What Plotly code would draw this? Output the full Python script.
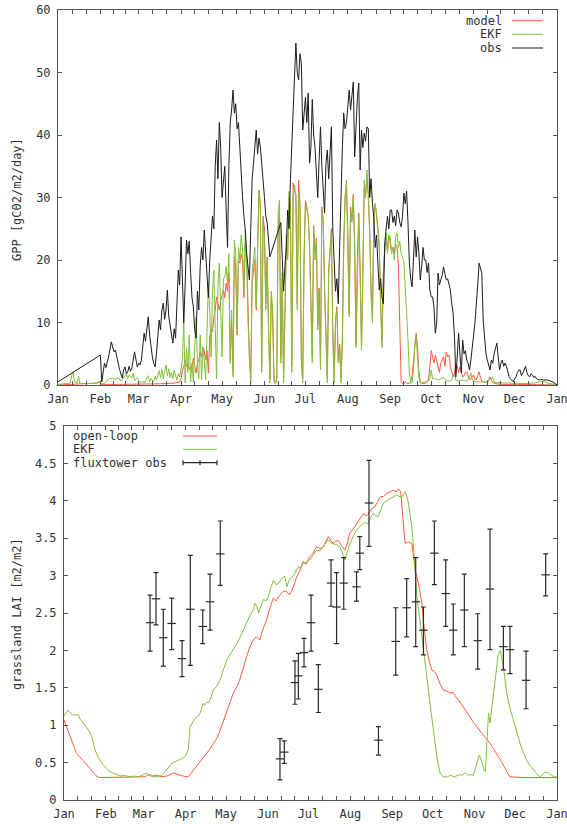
import plotly.graph_objects as go

W, H = 567, 824

# ---------------- data ----------------
month_start = [0, 31, 59, 90, 120, 151, 181, 212, 243, 273, 304, 334, 365]
month_label = ["Jan", "Feb", "Mar", "Apr", "May", "Jun", "Jul", "Aug", "Sep",
               "Oct", "Nov", "Dec", "Jan"]

# GPP observed at the flux tower, (day of year, gC02/m2/day)
obs_gpp = [(0, 0.5), (31, 4.8), (32, 0.5), (33, 2.0), (34, 3.5), (35, 2.8), (37, 4.5), (39, 6.9),
           (40, 6.0), (41, 5.3), (42, 5.6), (43, 4.2), (44, 3.5), (45, 2.5), (46, 1.9), (47, 1.1),
           (48, 2.4), (49, 2.9), (50, 1.8), (51, 2.1), (52, 3.0), (53, 2.2), (54, 2.7), (55, 4.0),
           (56, 5.3), (57, 4.1), (58, 2.9), (59, 3.5), (60, 3.2), (61, 4.0), (62, 5.8), (63, 8.3),
           (64, 7.0), (65, 9.5), (66, 10.9), (67, 8.0), (68, 5.6), (69, 4.5), (70, 3.5), (71, 2.9),
           (72, 5.0), (73, 7.5), (74, 10.4), (75, 8.8), (76, 12.0), (77, 13.1), (78, 10.5), (79, 12.0),
           (80, 15.2), (81, 11.0), (82, 9.3), (83, 8.0), (84, 6.7), (85, 9.0), (86, 7.5), (87, 13.0),
           (88, 18.4), (89, 16.0), (90, 23.7), (91, 17.0), (92, 9.9), (93, 16.0), (94, 23.2), (95, 21.0),
           (96, 23.0), (97, 18.0), (98, 14.0), (99, 12.5), (100, 8.8), (101, 7.5), (102, 15.0), (103, 12.0),
           (104, 19.0), (105, 22.0), (106, 20.0), (107, 24.8), (108, 21.0), (109, 18.4), (110, 14.0),
           (111, 20.0), (112, 23.0), (113, 27.0), (114, 25.0), (115, 35.0), (116, 39.2), (117, 33.0),
           (118, 42.0), (119, 38.0), (120, 30.0), (121, 33.0), (122, 35.0), (123, 28.0), (124, 22.0),
           (125, 35.0), (126, 42.0), (127, 44.0), (128, 47.2), (129, 43.5), (130, 45.0), (131, 41.0),
           (132, 42.0), (133, 38.0), (134, 32.8), (135, 30.0), (136, 27.0), (137, 24.8), (138, 21.0),
           (139, 18.4), (140, 16.8), (141, 25.0), (142, 33.0), (143, 35.5), (144, 38.0), (145, 40.8),
           (146, 37.0), (147, 39.5), (148, 38.1), (149, 36.0), (150, 32.8), (151, 30.0), (152, 27.0),
           (153, 25.9), (154, 23.0), (155, 20.5), (163, 26.0), (164, 20.0), (165, 15.0), (166, 19.0),
           (167, 22.0), (168, 28.0), (169, 25.0), (170, 32.8), (171, 38.0), (172, 43.5), (173, 48.0),
           (174, 54.7), (175, 50.0), (176, 48.8), (177, 53.0), (178, 51.5), (179, 40.8), (180, 43.0),
           (181, 46.0), (182, 42.0), (183, 46.7), (184, 35.5), (185, 38.0), (186, 45.7), (187, 40.0),
           (188, 38.0), (189, 33.0), (190, 30.0), (191, 36.0), (192, 41.3), (193, 35.0), (194, 32.0),
           (195, 27.5), (196, 35.5), (197, 37.6), (198, 33.0), (199, 38.0), (200, 41.3), (201, 24.8),
           (202, 20.0), (203, 15.0), (204, 17.0), (205, 13.0), (206, 22.0), (207, 32.8), (208, 38.0),
           (209, 43.5), (210, 41.0), (211, 42.0), (212, 45.0), (213, 47.2), (214, 44.0), (215, 46.0),
           (216, 48.5), (217, 36.5), (218, 42.0), (219, 46.0), (220, 48.3), (221, 34.4), (222, 40.8),
           (223, 38.0), (224, 40.3), (225, 39.0), (226, 41.3), (227, 41.0), (228, 30.0), (229, 33.0),
           (230, 29.0), (231, 26.9), (232, 22.0), (233, 24.0), (234, 19.5), (235, 15.2), (236, 17.0),
           (237, 14.0), (238, 13.0), (239, 22.7), (240, 25.0), (241, 27.0), (242, 25.0), (243, 28.0),
           (244, 28.0), (245, 26.0), (246, 27.0), (247, 25.5), (248, 28.0), (249, 27.5), (250, 26.0),
           (251, 25.3), (252, 27.0), (253, 30.7), (254, 29.0), (255, 31.0), (256, 26.0), (257, 19.5),
           (258, 17.0), (259, 15.7), (260, 20.0), (261, 24.8), (262, 20.5), (263, 23.7), (264, 21.0),
           (265, 16.8), (266, 19.0), (267, 22.0), (268, 20.0), (269, 20.0), (270, 18.0), (271, 19.5),
           (272, 15.2), (273, 14.1), (274, 14.1), (275, 12.5), (276, 8.3), (277, 9.9), (278, 17.9),
           (279, 16.0), (280, 16.8), (281, 17.5), (282, 18.9), (283, 17.5), (284, 16.8), (285, 17.0),
           (286, 16.0), (287, 15.2), (288, 13.0), (289, 11.5), (290, 7.7), (291, 1.3), (292, 4.5),
           (293, 8.3), (294, 5.0), (295, 1.9), (296, 7.2), (297, 5.0), (298, 5.5), (299, 4.0), (300, 3.5),
           (301, 2.4), (302, 4.0), (303, 5.6), (304, 8.0), (305, 10.0), (306, 12.5), (307, 16.0),
           (308, 19.5), (309, 18.5), (310, 17.9), (311, 10.4), (312, 7.0), (313, 5.1), (314, 4.0),
           (315, 2.9), (316, 2.4), (317, 4.0), (318, 3.5), (319, 5.0), (320, 6.0), (321, 6.7), (322, 4.5),
           (323, 2.4), (324, 3.5), (325, 4.0), (326, 3.0), (327, 3.5), (328, 3.0), (329, 2.0), (330, 1.3),
           (331, 1.0), (332, 0.8), (333, 0.5), (334, 1.0), (335, 1.3), (336, 2.0), (337, 2.4), (338, 2.4),
           (339, 1.5), (340, 1.9), (341, 2.5), (342, 3.0), (343, 2.0), (344, 1.5), (345, 1.3), (346, 1.8),
           (347, 1.6), (348, 1.2), (349, 1.4), (350, 1.0), (351, 0.9), (352, 0.8), (353, 0.9), (355, 0.8),
           (358, 0.8), (362, 0.5), (365, 0.0)]

# GPP from the EKF run
ekf_gpp = [(0, 0.1), (5, 0.2), (9, 0.3), (10, 1.5), (11, 2.1), (12, 0.5), (14, 0.3), (15, 1.4), (16, 0.3),
           (20, 0.2), (25, 0.2), (29, 0.3), (30, 0.6), (31, 0.2), (34, 0.2), (36, 0.8), (38, 1.0),
           (40, 1.1), (42, 0.9), (44, 1.2), (46, 0.6), (48, 1.3), (50, 1.8), (51, 1.0), (52, 1.6),
           (54, 1.1), (55, 1.9), (56, 0.7), (58, 1.2), (60, 0.4), (62, 0.6), (63, 0.3), (64, 0.7),
           (66, 1.5), (67, 0.5), (68, 1.0), (70, 0.5), (71, 1.4), (72, 0.8), (73, 1.6), (74, 2.3),
           (75, 1.2), (76, 2.5), (77, 1.0), (78, 2.2), (79, 3.2), (80, 1.5), (81, 2.6), (82, 1.2),
           (83, 2.0), (84, 1.0), (85, 2.4), (86, 1.5), (87, 0.8), (88, 1.8), (89, 1.3), (90, 2.5),
           (91, 4.3), (92, 9.9), (93, 0.3), (94, 6.0), (95, 2.0), (96, 8.0), (97, 0.5), (98, 3.5),
           (99, 0.4), (100, 5.9), (101, 10.9), (102, 3.3), (103, 1.0), (104, 8.0), (105, 0.9), (106, 6.0),
           (107, 4.0), (108, 0.8), (109, 11.0), (110, 16.3), (111, 12.0), (112, 4.5), (113, 15.0),
           (114, 18.4), (115, 9.0), (116, 1.0), (117, 16.0), (118, 19.5), (119, 12.0), (120, 4.5),
           (121, 17.0), (122, 17.3), (123, 19.0), (124, 16.3), (125, 21.0), (126, 3.5), (127, 12.0),
           (128, 1.3), (129, 23.2), (130, 21.0), (131, 9.0), (132, 22.0), (133, 20.0), (134, 24.0),
           (135, 22.0), (136, 15.0), (137, 24.8), (138, 20.0), (139, 10.0), (140, 3.5), (141, 0.3),
           (142, 18.0), (143, 20.5), (144, 22.0), (145, 12.5), (146, 25.0), (147, 31.0), (148, 28.0),
           (149, 2.0), (150, 26.0), (151, 24.0), (152, 12.0), (153, 20.0), (154, 8.8), (155, 0.3),
           (156, 15.0), (157, 12.0), (158, 0.3), (159, 0.3), (160, 0.3), (161, 27.5), (162, 29.6),
           (163, 3.5), (164, 18.0), (165, 0.3), (166, 12.0), (167, 24.0), (168, 20.0), (169, 31.0),
           (170, 28.0), (171, 2.0), (172, 30.0), (173, 32.0), (174, 30.0), (175, 12.0), (176, 31.0),
           (177, 28.0), (178, 3.5), (179, 0.3), (180, 20.0), (181, 29.0), (182, 28.0), (183, 27.0),
           (184, 22.0), (185, 12.0), (186, 3.5), (187, 25.0), (188, 20.0), (189, 23.0), (190, 8.8),
           (191, 15.0), (192, 2.4), (193, 28.0), (194, 26.0), (195, 15.0), (196, 5.6), (197, 0.3),
           (198, 18.0), (199, 22.0), (200, 24.3), (201, 8.0), (202, 0.3), (203, 9.9), (204, 12.0),
           (205, 3.5), (206, 6.0), (207, 0.3), (208, 6.7), (209, 22.0), (210, 30.1), (211, 32.8),
           (212, 24.0), (213, 10.9), (214, 28.0), (215, 26.0), (216, 30.0), (217, 22.0), (218, 6.0),
           (219, 20.0), (220, 27.0), (221, 18.0), (222, 5.6), (223, 18.0), (224, 32.8), (225, 30.0),
           (226, 34.4), (227, 30.0), (228, 24.0), (229, 14.1), (230, 10.0), (231, 26.0), (232, 29.0),
           (233, 27.0), (234, 25.0), (235, 22.0), (236, 12.5), (237, 6.0), (238, 18.0), (239, 22.0),
           (240, 24.3), (241, 21.0), (242, 24.0), (243, 23.7), (244, 21.0), (245, 22.0), (246, 20.0),
           (247, 23.7), (248, 24.3), (249, 22.0), (250, 23.0), (251, 21.0), (252, 20.5), (253, 19.5),
           (254, 16.3), (255, 11.5), (256, 7.2), (257, 2.0), (258, 0.3), (259, 0.3), (260, 2.5),
           (261, 6.7), (262, 7.7), (263, 4.0), (264, 1.0), (265, 0.3), (268, 0.5), (270, 0.5), (272, 1.0),
           (273, 2.4), (274, 1.0), (276, 1.0), (278, 0.8), (280, 1.0), (282, 1.2), (284, 0.7), (286, 0.6),
           (288, 0.8), (290, 1.9), (291, 0.8), (293, 0.6), (296, 0.8), (299, 0.6), (301, 1.2), (302, 1.9),
           (303, 0.8), (306, 0.5), (310, 0.5), (314, 0.4), (316, 0.8), (318, 1.3), (319, 0.4), (324, 0.3),
           (330, 0.3), (336, 0.2), (342, 0.3), (348, 0.3), (352, 0.5), (355, 0.6), (357, 0.4), (360, 0.2),
           (365, 0.1)]

# GPP from the free-running model
model_gpp = [(0, 0.0), (10, 0.1), (20, 0.1), (28, 0.3), (30, 0.5), (32, 0.1), (45, 0.1), (60, 0.1),
             (75, 0.2), (85, 0.3), (89, 0.5), (90, 1.0), (91, 2.4), (92, 3.0), (93, 4.0), (94, 3.0),
             (95, 3.5), (96, 2.5), (97, 3.0), (98, 2.8), (99, 4.3), (100, 3.0), (101, 1.9), (102, 3.5),
             (103, 4.0), (104, 5.1), (105, 4.5), (106, 6.1), (107, 5.5), (108, 4.0), (109, 5.6),
             (110, 1.9), (111, 7.7), (112, 9.0), (113, 8.5), (114, 10.9), (115, 12.0), (116, 14.1),
             (117, 13.0), (118, 12.0), (119, 13.5), (120, 14.5), (121, 15.2), (122, 14.0), (123, 16.3),
             (124, 15.0), (125, 17.9), (126, 4.0), (127, 10.5), (128, 2.0), (129, 20.5), (130, 19.0),
             (131, 8.0), (132, 20.0), (133, 19.5), (134, 21.0), (135, 20.0), (136, 14.0), (137, 22.7),
             (138, 21.0), (139, 11.0), (140, 4.0), (141, 1.0), (142, 16.0), (143, 18.4), (144, 20.0),
             (145, 12.0), (146, 24.0), (147, 31.2), (148, 29.0), (149, 3.0), (150, 27.0), (151, 25.0),
             (152, 13.0), (153, 20.5), (154, 9.5), (155, 1.0), (156, 14.0), (157, 11.0), (158, 1.0),
             (159, 0.5), (160, 1.0), (161, 25.0), (162, 28.0), (163, 4.5), (164, 17.0), (165, 1.0),
             (166, 11.0), (167, 22.0), (168, 20.5), (169, 30.0), (170, 28.5), (171, 3.0), (172, 32.3),
             (173, 31.0), (174, 30.5), (175, 13.0), (176, 32.8), (177, 29.0), (178, 4.5), (179, 1.0),
             (180, 21.0), (181, 29.5), (182, 28.5), (183, 27.0), (184, 22.5), (185, 13.0), (186, 4.5),
             (187, 25.5), (188, 21.0), (189, 23.5), (190, 9.5), (191, 15.5), (192, 3.0), (193, 28.5),
             (194, 26.5), (195, 15.5), (196, 6.5), (197, 1.0), (198, 18.5), (199, 22.5), (200, 25.0),
             (201, 8.5), (202, 1.0), (203, 10.5), (204, 12.5), (205, 4.0), (206, 6.5), (207, 1.0),
             (208, 7.5), (209, 22.5), (210, 30.0), (211, 32.0), (212, 24.5), (213, 11.5), (214, 28.5),
             (215, 26.5), (216, 30.5), (217, 22.5), (218, 6.5), (219, 20.5), (220, 27.5), (221, 18.5),
             (222, 6.0), (223, 18.5), (224, 31.5), (225, 30.5), (226, 33.0), (227, 30.5), (228, 25.0),
             (229, 15.0), (230, 11.0), (231, 26.5), (232, 29.0), (233, 27.5), (234, 25.5), (235, 22.5),
             (236, 13.0), (237, 7.0), (238, 18.0), (239, 22.0), (240, 23.5), (241, 21.5), (242, 24.0),
             (243, 23.0), (244, 21.5), (245, 22.0), (246, 21.0), (247, 22.5), (248, 22.0), (249, 19.0),
             (250, 10.0), (251, 0.5), (252, 0.2), (253, 0.2), (254, 0.5), (255, 0.3), (256, 0.2),
             (257, 0.3), (258, 0.5), (259, 1.5), (260, 4.0), (261, 7.0), (262, 8.3), (263, 6.0),
             (264, 2.0), (265, 0.5), (267, 0.2), (269, 0.3), (271, 0.8), (272, 3.0), (273, 5.5),
             (274, 4.5), (275, 3.5), (276, 4.8), (277, 4.0), (278, 3.0), (279, 2.0), (280, 3.5),
             (281, 4.0), (282, 4.5), (283, 3.0), (284, 5.3), (285, 4.5), (286, 4.8), (287, 3.0),
             (288, 2.2), (289, 1.3), (290, 2.0), (291, 3.5), (292, 3.0), (293, 2.0), (294, 2.9),
             (295, 2.0), (296, 1.3), (297, 1.5), (298, 2.0), (299, 2.1), (300, 1.5), (301, 0.8),
             (302, 1.0), (303, 1.4), (304, 1.6), (305, 1.0), (306, 0.8), (307, 1.5), (308, 2.1),
             (309, 1.2), (310, 0.6), (311, 0.5), (313, 0.4), (315, 0.9), (316, 1.3), (317, 0.8),
             (318, 0.4), (320, 0.2), (325, 0.1), (335, 0.1), (345, 0.1), (355, 0.1), (365, 0.0)]

# Grassland LAI, open-loop run
openloop_lai = [(0, 1.07), (4.4, 0.85), (9.3, 0.62), (14.2, 0.53), (19, 0.42), (24, 0.32), (26.4, 0.30),
                (35, 0.30), (45, 0.30), (55, 0.30), (60, 0.31), (62, 0.33), (64, 0.34), (66, 0.32),
                (68.6, 0.33), (72, 0.31), (76, 0.32), (81, 0.36), (84, 0.34), (88, 0.32), (92, 0.31),
                (95.8, 0.40), (98, 0.45), (100.7, 0.51), (103, 0.56), (105.6, 0.62), (108, 0.68),
                (110.6, 0.76), (113, 0.82), (115.5, 0.93), (118, 1.05), (120, 1.16), (123, 1.30),
                (125.4, 1.43), (128, 1.52), (130, 1.60), (133, 1.78), (135, 1.91), (138, 2.06),
                (140, 2.14), (142.4, 2.18), (145, 2.14), (147, 2.27), (150, 2.41), (152, 2.54),
                (155, 2.70), (157, 2.66), (159, 2.72), (162.4, 2.79), (164.8, 2.79), (167, 2.74),
                (169.8, 2.85), (172, 2.97), (174.7, 3.07), (177, 3.19), (179, 3.15), (182, 3.25),
                (184.5, 3.30), (187, 3.39), (189.5, 3.36), (192, 3.39), (194, 3.46), (195.7, 3.52),
                (197.5, 3.47), (199.4, 3.43), (201, 3.46), (203, 3.47), (205.5, 3.40), (208, 3.34),
                (210, 3.45), (211.7, 3.57), (214, 3.62), (216.7, 3.70), (219, 3.76), (221.6, 3.83),
                (224, 3.80), (226.5, 3.85), (228, 3.90), (230, 3.92), (232, 3.98), (234, 4.05),
                (236.5, 4.06), (239, 4.10), (241.5, 4.12), (243.8, 4.14), (246, 4.12), (247.5, 4.16),
                (249.3, 4.12), (250.2, 3.95), (251, 3.79), (252.5, 3.43), (255, 3.45), (257.5, 3.43),
                (258.8, 3.25), (260, 3.07), (262.3, 2.90), (265, 2.63), (266, 2.41), (267.2, 2.20),
                (268.5, 2.01), (270.5, 1.85), (272.2, 1.74), (274, 1.72), (276, 1.67), (278.5, 1.55),
                (280.8, 1.47), (283, 1.46), (285.8, 1.43), (288, 1.44), (290, 1.38), (292, 1.34),
                (295.6, 1.25), (298, 1.18), (300.6, 1.11), (303, 1.04), (305.5, 0.98), (308, 0.92),
                (310.4, 0.87), (313, 0.81), (315.4, 0.76), (318, 0.69), (320.3, 0.62), (323, 0.54),
                (325.2, 0.47), (328, 0.38), (330, 0.31), (340, 0.30), (350, 0.30), (358, 0.30),
                (365, 0.30)]

# Grassland LAI, EKF analysis
ekf_lai = [(0, 1.12), (3, 1.20), (5, 1.16), (6.5, 1.13), (8, 1.14), (10.5, 1.14), (12, 1.08), (14, 1.03),
           (16, 0.99), (18, 0.94), (20.5, 0.85), (23, 0.67), (25, 0.58), (26.6, 0.53), (29, 0.47),
           (31.6, 0.42), (34, 0.38), (36.5, 0.36), (39, 0.34), (41.5, 0.32), (45, 0.33), (48, 0.31),
           (51.3, 0.32), (55, 0.31), (58, 0.33), (61, 0.36), (63, 0.33), (65, 0.31), (68.6, 0.31),
           (72.3, 0.33), (74, 0.36), (76, 0.40), (78, 0.45), (79.8, 0.49), (82, 0.51), (84.7, 0.53),
           (87, 0.55), (89.6, 0.58), (92, 0.67), (93.3, 0.98), (95, 1.04), (97, 1.09), (99, 1.12),
           (100.7, 1.16), (103, 1.29), (104.3, 1.27), (105.6, 1.31), (107, 1.30), (108, 1.33),
           (110.6, 1.47), (113, 1.52), (115.5, 1.60), (118, 1.74), (120.4, 1.87), (123, 1.95),
           (125.4, 2.01), (127, 2.06), (129, 2.12), (131, 2.20), (132.8, 2.27), (134.5, 2.35),
           (136.5, 2.41), (138, 2.48), (140, 2.54), (141.5, 2.63), (143, 2.58), (144, 2.50),
           (146, 2.60), (147.6, 2.68), (149.5, 2.66), (151.4, 2.72), (153, 2.83), (155, 2.94),
           (157, 2.88), (159, 2.90), (161, 2.96), (163.6, 2.99), (165, 2.85), (166.5, 2.93),
           (169.8, 3.00), (171.5, 3.05), (173.5, 3.12), (175, 3.10), (177, 3.16), (179.5, 3.18),
           (182, 3.21), (184.5, 3.27), (187, 3.34), (189.5, 3.33), (192, 3.39), (194, 3.44),
           (195.7, 3.48), (197.5, 3.44), (199.4, 3.43), (202, 3.41), (204.3, 3.39), (206, 3.30),
           (208, 3.21), (210, 3.33), (211.7, 3.43), (214, 3.52), (216.7, 3.61), (219, 3.65),
           (221.6, 3.70), (223, 3.71), (225, 3.69), (227, 3.78), (229, 3.83), (231, 3.80),
           (232.7, 3.79), (234.5, 3.88), (236.6, 3.97), (239, 4.00), (241.5, 4.03), (244, 4.05),
           (246.4, 4.08), (248, 4.06), (250, 4.05), (251.5, 4.09), (252.5, 4.12), (254, 4.05),
           (255, 3.97), (256.3, 3.80), (257.5, 3.65), (258.6, 3.43), (259.8, 3.05), (261.2, 2.72),
           (262.5, 2.55), (263.6, 2.40), (266, 2.01), (268.6, 1.65), (271, 1.29), (273.5, 0.94),
           (276, 0.58), (278.4, 0.36), (280.8, 0.31), (284, 0.31), (286, 0.33), (289, 0.31),
           (291, 0.32), (293, 0.34), (295, 0.33), (297, 0.37), (299, 0.33), (301, 0.34), (303, 0.33),
           (304.5, 0.42), (305.5, 0.49), (307.5, 0.60), (309, 0.53), (311, 0.40), (312, 0.38),
           (313, 0.76), (314.3, 1.16), (315.4, 1.03), (316.6, 1.20), (319, 1.56), (321.6, 1.96),
           (323, 2.00), (325.3, 1.78), (327.8, 1.43), (330, 1.24), (332.7, 1.07), (335, 0.92),
           (337.6, 0.76), (340, 0.64), (342.6, 0.53), (345, 0.46), (347.5, 0.40), (350, 0.35),
           (352.4, 0.31), (355, 0.36), (357, 0.37), (358.7, 0.36), (361, 0.33), (363, 0.31),
           (365, 0.31)]

# Fluxtower LAI observations with their uncertainty range
flux_day = [63.7, 68.1, 73.5, 79.7, 87.4, 93.5, 102.7, 108.1, 115.7, 159.9, 163.1, 171.0, 173.5,
            177.7, 182.9, 188.3, 197.7, 201.8, 207.1, 216.6, 219.0, 225.8, 232.8, 245.6, 253.7,
            260.4, 266.1, 274.2, 282.6, 288.2, 296.4, 306.3, 315.4, 325.3, 330.2, 342.1, 356.6]
flux_lai = [2.37, 2.69, 2.17, 2.36, 1.89, 2.55, 2.32, 2.65, 3.29, 0.55, 0.64, 1.57, 1.66, 1.97, 2.37,
            1.48, 2.90, 2.58, 2.90, 2.85, 3.30, 3.97, 0.80, 2.12, 2.57, 2.65, 2.27, 3.30, 2.76, 2.27,
            2.54, 2.13, 2.82, 2.05, 2.01, 1.60, 3.01]
flux_hi = [2.74, 3.04, 2.55, 2.70, 2.13, 3.27, 2.54, 3.02, 3.73, 0.82, 0.79, 1.86, 1.96, 2.16, 2.74,
           1.81, 3.21, 3.04, 3.24, 3.05, 3.52, 4.54, 0.98, 2.57, 2.96, 3.24, 2.58, 3.73, 3.21, 2.62,
           3.02, 2.49, 3.62, 2.32, 2.32, 1.99, 3.29]
flux_lo = [1.99, 2.34, 1.79, 2.01, 1.65, 1.80, 2.09, 2.27, 2.87, 0.27, 0.49, 1.28, 1.35, 1.78, 1.99,
           1.17, 2.59, 2.09, 2.55, 2.66, 3.08, 3.39, 0.60, 1.67, 2.18, 2.05, 1.94, 2.88, 2.32, 1.94,
           2.05, 1.75, 2.01, 1.74, 1.69, 1.22, 2.73]

gpp_ticks = [0, 10, 20, 30, 40, 50, 60]
lai_ticks = [0, 0.5, 1, 1.5, 2, 2.5, 3, 3.5, 4, 4.5, 5]
lai_tick_text = ["0", "0.5", "1", "1.5", "2", "2.5", "3", "3.5", "4", "4.5", "5"]

# ---------------- styling ----------------
RED = "#ff5a3c"
GREEN = "#7fc23c"
BLACK = "#1c1c1c"
AXIS = "#555555"
TEXT = "#333333"
FONT = "DejaVu Sans Mono"


def px(x):
    return x / W


def py(y):
    return 1 - y / H


def xy(pairs):
    return [p[0] for p in pairs], [p[1] for p in pairs]


# minor ticks split every month into thirds
minor_vals = []
for a, b in zip(month_start[:-1], month_start[1:]):
    minor_vals += [a + (b - a) / 3, a + 2 * (b - a) / 3]

fig = go.Figure()

for pairs, color, name in [(model_gpp, RED, "model"), (ekf_gpp, GREEN, "EKF"), (obs_gpp, BLACK, "obs")]:
    x, y = xy(pairs)
    fig.add_trace(go.Scatter(x=x, y=y, mode="lines", name=name, xaxis="x", yaxis="y",
                             line=dict(color=color, width=1), showlegend=False))

for pairs, color, name in [(openloop_lai, RED, "open-loop"), (ekf_lai, GREEN, "EKF")]:
    x, y = xy(pairs)
    fig.add_trace(go.Scatter(x=x, y=y, mode="lines", name=name, xaxis="x2", yaxis="y2",
                             line=dict(color=color, width=1), showlegend=False))

fig.add_trace(go.Scatter(
    x=flux_day, y=flux_lai, mode="markers", name="fluxtower obs", xaxis="x2", yaxis="y2",
    marker=dict(symbol="line-ew", size=6, line=dict(color="#2a2a2a", width=1.2)),
    error_y=dict(type="data", symmetric=False,
                 array=[h - c for h, c in zip(flux_hi, flux_lai)],
                 arrayminus=[c - l for c, l in zip(flux_lai, flux_lo)],
                 color="#2a2a2a", thickness=1.2, width=2.5),
    showlegend=False))

common_x = dict(range=[0, 365], tickmode="array", tickvals=month_start, ticktext=month_label,
                ticks="inside", ticklen=4, tickcolor=AXIS, showline=True, linecolor=AXIS,
                linewidth=1, mirror="ticks", showgrid=False, zeroline=False, automargin=False,
                ticklabeloverflow="allow", ticklabelstandoff=3,
                minor=dict(tickmode="array", tickvals=minor_vals, ticks="inside", ticklen=4,
                           tickcolor=AXIS, showgrid=False),
                tickfont=dict(family=FONT, size=12, color=TEXT))
common_y = dict(ticks="inside", ticklen=4, tickcolor=AXIS, showline=True, linecolor=AXIS,
                linewidth=1, mirror="ticks", showgrid=False, zeroline=False, automargin=False,
                ticklabeloverflow="allow", ticklabelstandoff=4,
                tickfont=dict(family=FONT, size=12, color=TEXT))

fig.update_layout(
    width=W, height=H, margin=dict(l=0, r=0, t=0, b=0, autoexpand=False),
    paper_bgcolor="white", plot_bgcolor="white",
    xaxis=dict(domain=[px(58), px(557)], anchor="y", **common_x),
    yaxis=dict(domain=[py(385), py(10)], anchor="x", range=[0, 60], tickmode="array",
               tickvals=gpp_ticks, **common_y),
    xaxis2=dict(domain=[px(64), px(557)], anchor="y2", **common_x),
    yaxis2=dict(domain=[py(800), py(426)], anchor="x2", range=[0, 5], tickmode="array",
                tickvals=lai_ticks, ticktext=lai_tick_text, **common_y),
)

ann = []
shapes = []
tfont = dict(family=FONT, size=12, color=TEXT)

# axis titles
ann.append(dict(x=px(17), y=py(200), xref="paper", yref="paper", text="GPP [gC02/m2/day]",
                textangle=-90, showarrow=False, font=tfont, xanchor="center", yanchor="middle"))
ann.append(dict(x=px(17), y=py(614), xref="paper", yref="paper", text="grassland LAI [m2/m2]",
                textangle=-90, showarrow=False, font=tfont, xanchor="center", yanchor="middle"))

# key of the GPP panel: right-aligned labels followed by line samples
for label, color, yk in [("model", RED, 20.7), ("EKF", GREEN, 34.3), ("obs", BLACK, 48)]:
    ann.append(dict(x=px(504), y=py(yk), xref="paper", yref="paper", text=label, showarrow=False,
                    font=tfont, xanchor="right", yanchor="middle"))
    shapes.append(dict(type="line", xref="paper", yref="paper", x0=px(512), x1=px(543),
                       y0=py(yk), y1=py(yk), line=dict(color=color, width=1)))

# key of the LAI panel: left-aligned labels followed by samples
for label, yk in [("open-loop", 436), ("EKF", 449.3), ("fluxtower obs", 462.7)]:
    ann.append(dict(x=px(71), y=py(yk), xref="paper", yref="paper", text=label, showarrow=False,
                    font=tfont, xanchor="left", yanchor="middle"))
for color, yk in [(RED, 436), (GREEN, 449.3)]:
    shapes.append(dict(type="line", xref="paper", yref="paper", x0=px(183), x1=px(217),
                       y0=py(yk), y1=py(yk), line=dict(color=color, width=1)))
ek = 462.7
shapes.append(dict(type="line", xref="paper", yref="paper", x0=px(183), x1=px(217),
                   y0=py(ek), y1=py(ek), line=dict(color="#2a2a2a", width=1.2)))
for xk in (183, 200, 217):
    shapes.append(dict(type="line", xref="paper", yref="paper", x0=px(xk), x1=px(xk),
                       y0=py(ek - 2.5), y1=py(ek + 2.5), line=dict(color="#2a2a2a", width=1.2)))

fig.update_layout(annotations=ann, shapes=shapes)

fig.write_html("out.html")
